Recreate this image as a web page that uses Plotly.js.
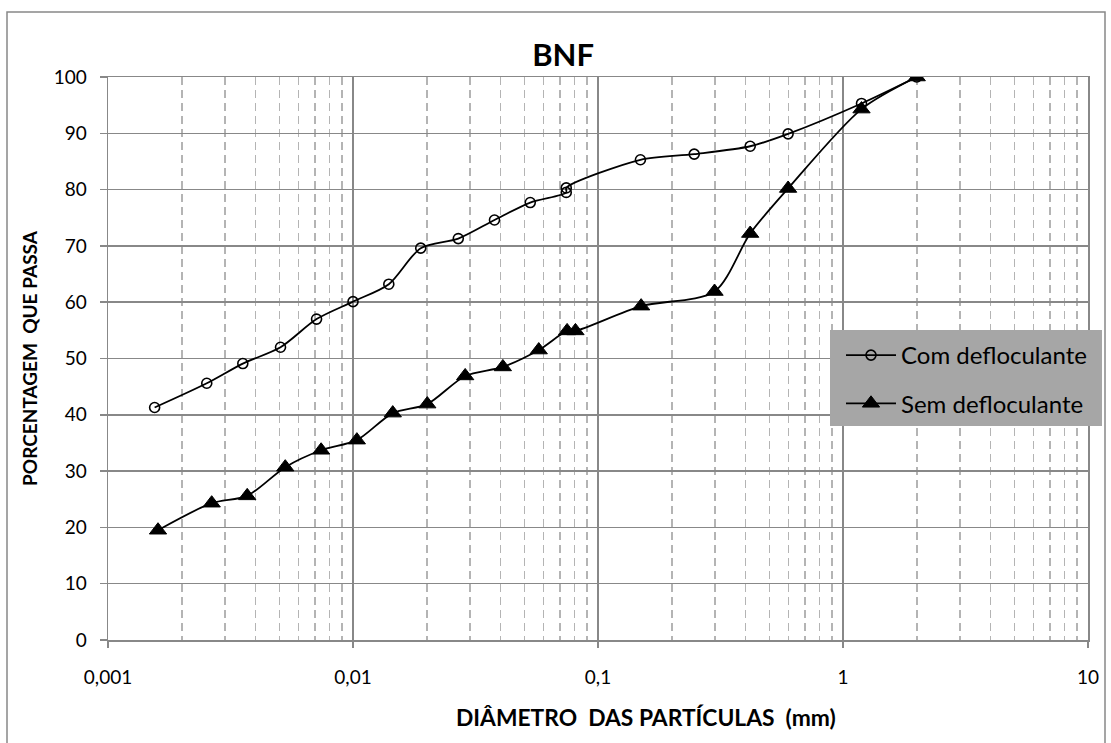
<!DOCTYPE html>
<html>
<head>
<meta charset="utf-8">
<script src="https://cdn.plot.ly/plotly-3.0.1.min.js"></script>
<style>
  html, body { margin: 0; padding: 0; background: #ffffff; }
  #chart { width: 1111px; height: 743px; }
</style>
</head>
<body>
<div id="chart"></div>
<script>
// Data
const seriesNames = ['Com defloculante', 'Sem defloculante'];

const comDiam = [0.00155, 0.00253, 0.00355, 0.00506, 0.0071, 0.0100, 0.0140, 0.0189, 0.0269, 0.0378, 0.0529, 0.0742, 0.0742, 0.149, 0.247, 0.418, 0.597, 1.19, 2.0];
const comPass = [41.3, 45.6, 49.1, 52.0, 57.0, 60.1, 63.2, 69.6, 71.3, 74.6, 77.7, 79.5, 80.3, 85.3, 86.3, 87.7, 89.9, 95.3, 100];

const semDiam = [0.0016, 0.00265, 0.0037, 0.00529, 0.00741, 0.01037, 0.01453, 0.0201, 0.0287, 0.0409, 0.0573, 0.0748, 0.0809, 0.150, 0.299, 0.418, 0.597, 1.19, 2.0];
const semPass = [19.5, 24.3, 25.6, 30.7, 33.7, 35.5, 40.3, 41.9, 46.9, 48.5, 51.5, 54.9, 54.9, 59.3, 61.9, 72.2, 80.2, 94.3, 100];

const xTickVals = [0.001, 0.01, 0.1, 1, 10];
const xTickText = ['0,001', '0,01', '0,1', '1', '10'];

const chartTitle = 'BNF';
const xTitle = 'DIÂMETRO\u00a0\u00a0DAS PARTÍCULAS\u00a0\u00a0(mm)';
const yTitle = 'PORCENTAGEM\u00a0\u00a0QUE PASSA';

const FONT = 'Lato, "Open Sans", sans-serif';

const traces = [
  {
    x: comDiam, y: comPass, name: seriesNames[0], legendgroup: 'a',
    type: 'scatter', mode: 'lines+markers',
    line: { color: '#000000', width: 1.8, shape: 'spline', smoothing: 0.8 },
    marker: { symbol: 'circle-open', size: 10, color: '#000000', line: { color: '#000000', width: 1.6 } }
  },
  {
    x: semDiam, y: semPass, name: seriesNames[1], legendgroup: 'b',
    type: 'scatter', mode: 'lines+markers',
    line: { color: '#000000', width: 1.8, shape: 'spline', smoothing: 0.8 },
    marker: { symbol: 'triangle-up', size: 15, color: '#000000', line: { color: '#000000', width: 1 } }
  }
];

const px = v => (v - 108) / 980;   // helper: pixel x -> paper x
const py = v => (640 - v) / 563;   // helper: pixel y -> paper y

const layout = {
  width: 1111, height: 743,
  paper_bgcolor: '#ffffff', plot_bgcolor: '#ffffff',
  margin: { l: 108, r: 23, t: 77, b: 103, pad: 0 },
  font: { family: FONT, color: '#000000', size: 19 },
  title: {
    text: '<b>' + chartTitle + '</b>',
    font: { family: FONT, size: 31, color: '#000000' },
    x: 0.5068, xanchor: 'center', xref: 'container',
    y: 1 - 54.7 / 743, yanchor: 'middle', yref: 'container'
  },
  showlegend: true,
  legend: {
    x: px(841), xanchor: 'left', y: py(333), yanchor: 'top',
    bgcolor: 'rgba(0,0,0,0)', borderwidth: 0,
    font: { family: FONT, size: 24, color: '#000000' },
    itemwidth: 50, traceorder: 'grouped', tracegroupgap: 14
  },
  xaxis: {
    type: 'log', range: [-3, 1],
    tickvals: xTickVals, ticktext: xTickText,
    showline: true, linecolor: '#888888', linewidth: 1.5, mirror: true,
    showgrid: true, gridcolor: '#888888', gridwidth: 1.5,
    zeroline: false,
    ticks: 'outside', ticklen: 6, tickcolor: '#888888', tickwidth: 1.5,
    ticklabelstandoff: 14,
    tickfont: { family: FONT, size: 19, color: '#000000' },
    minor: { dtick: 'D1', showgrid: true, griddash: '8px,5px', gridcolor: '#b4b4b4', gridwidth: 1.5, ticks: '' }
  },
  yaxis: {
    range: [0, 100], dtick: 10, tick0: 0,
    showline: true, linecolor: '#888888', linewidth: 1.5, mirror: true,
    showgrid: true, gridcolor: '#888888', gridwidth: 1.5,
    zeroline: false,
    ticks: 'outside', ticklen: 7, tickcolor: '#888888', tickwidth: 1.5,
    ticklabelstandoff: 9,
    tickfont: { family: FONT, size: 19, color: '#000000' },
    title: { text: '<b>' + yTitle + '</b>', font: { family: FONT, size: 19, color: '#000000' }, standoff: 11 }
  },
  annotations: [
    {
      text: '<b>' + xTitle + '</b>', showarrow: false,
      xref: 'paper', yref: 'paper',
      x: px(646), xanchor: 'center',
      y: py(717), yanchor: 'middle',
      font: { family: FONT, size: 22.8, color: '#000000' }
    }
  ],
  shapes: [
    {
      type: 'rect', xref: 'paper', yref: 'paper',
      x0: px(7), x1: px(1105),
      y0: py(748), y1: py(12),
      line: { color: '#888888', width: 1.5 }, fillcolor: 'rgba(0,0,0,0)', layer: 'below'
    },
    {
      type: 'rect', xref: 'paper', yref: 'paper',
      x0: px(830), x1: px(1102),
      y0: py(426), y1: py(330),
      line: { width: 0 }, fillcolor: '#a6a6a6', layer: 'above'
    }
  ]
};

Plotly.newPlot('chart', traces, layout, { displayModeBar: false, staticPlot: true });
</script>
</body>
</html>
